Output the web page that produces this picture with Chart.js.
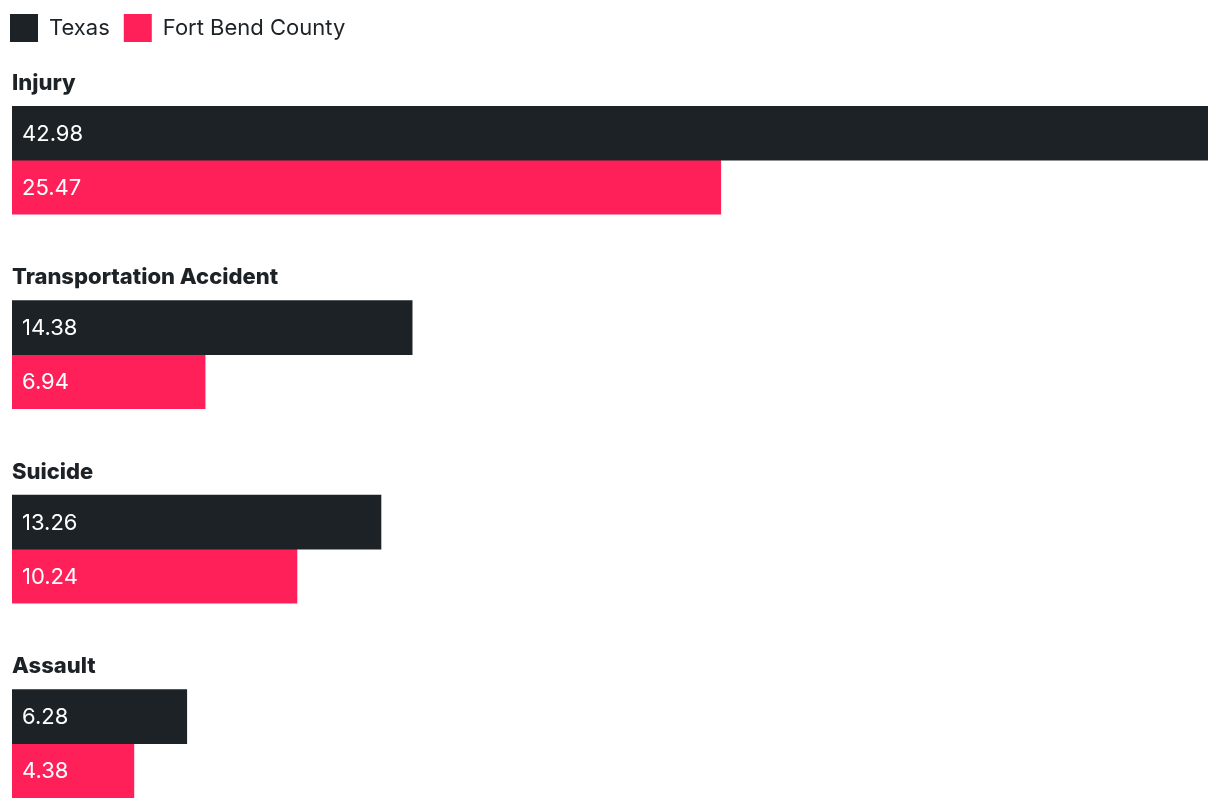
<!DOCTYPE html>
<html lang="en">

<head>
    <meta charset="UTF-8">
    <meta name="viewport" content="width=device-width, initial-scale=1.0">
    <title>Causes of death</title>
    <style>
        body { margin: 0; overflow: hidden; background: #fff; }
    </style>
</head>

<body>

    <div>
        <canvas id="myChart" width="1220" height="854"></canvas>
    </div>

    <script src="https://cdn.jsdelivr.net/npm/chart.js"></script>

    <script>
        const causas = ["Injury", "Transportation Accident", "Suicide", "Assault"];
        const texas = [42.98, 14.38, 13.26, 6.28];
        const fortBend = [25.47, 6.94, 10.24, 4.38];

        const oscuro = '#1c2226';
        const rosa = '#ff205a';

        // escribe el valor dentro de cada barra
        const valoresDentro = {
            id: 'valoresDentro',
            afterDatasetsDraw(chart) {
                const ctx = chart.ctx;
                ctx.save();
                ctx.font = '22px Inter';
                ctx.fillStyle = '#ffffff';
                ctx.textAlign = 'left';
                ctx.textBaseline = 'middle';
                chart.data.datasets.forEach((ds, i) => {
                    chart.getDatasetMeta(i).data.forEach((bar, j) => {
                        ctx.fillText(ds.data[j].toFixed(2), bar.base + 10, bar.y + 1);
                    });
                });
                ctx.restore();
            }
        };

        // un poco mas de aire debajo de la leyenda
        const espacioLeyenda = {
            id: 'espacioLeyenda',
            beforeInit(chart) {
                const fitOriginal = chart.legend.fit;
                chart.legend.fit = function () {
                    fitOriginal.bind(chart.legend)();
                    this.height += 11;
                };
            }
        };

        const ctx = document.getElementById('myChart');

        new Chart(ctx, {
            type: 'bar',
            data: {
                labels: causas,
                datasets: [{
                    label: 'Texas',
                    data: texas,
                    backgroundColor: oscuro,
                    barThickness: 54
                }, {
                    label: 'Fort Bend County',
                    data: fortBend,
                    backgroundColor: rosa,
                    barThickness: 54
                }]
            },
            options: {
                indexAxis: 'y',
                responsive: false,
                animation: false,
                layout: {
                    padding: { left: -4, right: 12, top: 0, bottom: 0 }
                },
                plugins: {
                    legend: {
                        align: 'start',
                        labels: {
                            boxWidth: 28,
                            boxHeight: 28,
                            padding: 14,
                            color: oscuro,
                            font: { family: 'Inter', size: 22 }
                        }
                    },
                    tooltip: { enabled: false }
                },
                scales: {
                    x: {
                        display: false,
                        min: 0,
                        max: 42.98
                    },
                    y: {
                        grid: { display: false, tickLength: 16 },
                        border: { display: false },
                        ticks: {
                            mirror: true,
                            padding: 0,
                            labelOffset: -77,
                            color: oscuro,
                            font: { family: 'Inter', size: 22, weight: 800 }
                        }
                    }
                }
            },
            plugins: [valoresDentro, espacioLeyenda]
        });
    </script>
</body>

</html>
